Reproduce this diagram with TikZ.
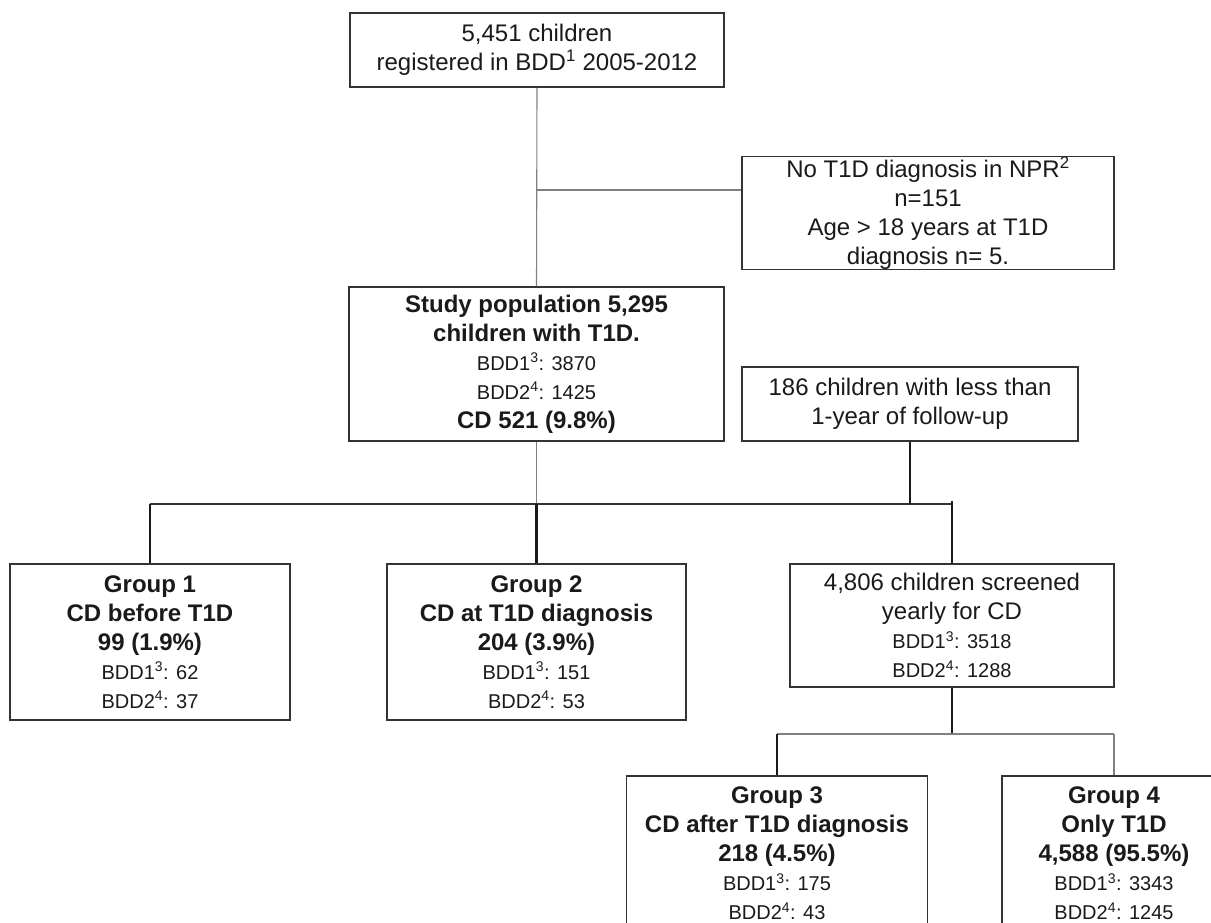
\documentclass[tikz,border=0pt]{standalone}
\usepackage{fontspec}
\setmainfont{Liberation Sans}
\definecolor{boxline}{HTML}{333333}
\definecolor{inkblack}{HTML}{1A1A1A}
\definecolor{linkgray}{HTML}{808080}
\newcommand{\mainfs}{\fontsize{24}{29}\selectfont}
\newcommand{\smallfs}{\fontsize{20}{25.5}\selectfont}
\newcommand{\bigbold}{\mainfs\bfseries}
\newcommand{\smallreg}{\smallfs\mdseries}
\newcommand{\bigreg}{\mainfs\mdseries}
\tikzset{
  flowbox/.style={draw=boxline, line width=1.5pt, rectangle, align=center, inner sep=0pt, text=inkblack, font=\mainfs},
  link/.style={draw=boxline, line width=1.4pt},
  thinlink/.style={draw=linkgray, line width=1.1pt},
  boldlink/.style={draw=inkblack, line width=2.2pt}
}
\begin{document}
\begin{tikzpicture}[x=1pt,y=-1pt]
\useasboundingbox (0,0) rectangle (1211,922);
\fill[white] (0,0) rectangle (1211,922);
\clip (0,0) rectangle (1211,922);
% boxes
\node[flowbox, minimum width=374pt, minimum height=74pt] (registered) at (537,50) {\bigreg 5,451 children\\ \bigreg registered in BDD\textsuperscript{1} 2005-2012};
\node[flowbox, minimum width=372pt, minimum height=106pt] (excluded) at (928,213) {\bigreg No T1D diagnosis in NPR\textsuperscript{2}\\ \bigreg n=151\\ \bigreg Age > 18 years at T1D\\ \bigreg diagnosis n= 5.};
\node[flowbox, minimum width=375pt, minimum height=154pt] (study) at (536.5,364) {\bigbold Study population 5,295\\ \bigbold children with T1D.\\ \smallreg BDD1\textsuperscript{3}: 3870\\ \smallreg BDD2\textsuperscript{4}: 1425\\ \bigbold CD 521 (9.8\%)};
\node[flowbox, minimum width=336pt, minimum height=74pt] (short) at (910,404) {\bigreg 186 children with less than\\ \bigreg 1-year of follow-up};
\node[flowbox, minimum width=280pt, minimum height=156pt] (group1) at (150,642) {\bigbold Group 1\\ \bigbold CD before T1D\\ \bigbold 99 (1.9\%)\\ \smallreg BDD1\textsuperscript{3}: 62\\ \smallreg BDD2\textsuperscript{4}: 37};
\node[flowbox, minimum width=299pt, minimum height=156pt] (group2) at (536.5,642) {\bigbold Group 2\\ \bigbold CD at T1D diagnosis\\ \bigbold 204 (3.9\%)\\ \smallreg BDD1\textsuperscript{3}: 151\\ \smallreg BDD2\textsuperscript{4}: 53};
\node[flowbox, minimum width=324pt, minimum height=123pt] (screened) at (952,625.5) {\bigreg 4,806 children screened\\ \bigreg yearly for CD\\ \smallreg BDD1\textsuperscript{3}: 3518\\ \smallreg BDD2\textsuperscript{4}: 1288};
\node[flowbox, minimum width=301pt, minimum height=155pt] (group3) at (777,853.5) {\bigbold Group 3\\ \bigbold CD after T1D diagnosis\\ \bigbold 218 (4.5\%)\\ \smallreg BDD1\textsuperscript{3}: 175\\ \smallreg BDD2\textsuperscript{4}: 43};
\node[flowbox, minimum width=224pt, minimum height=155pt] (group4) at (1114,853.5) {\bigbold Group 4\\ \bigbold Only T1D\\ \bigbold 4,588 (95.5\%)\\ \smallreg BDD1\textsuperscript{3}: 3343\\ \smallreg BDD2\textsuperscript{4}: 1245};
% junctions
\coordinate (exclJoin) at (536.5,190);
\coordinate (groupBar) at (150,504);
\coordinate (screenBar) at (952,734);
% connectors
\draw[thinlink] (registered.south) -- (study.north);
\draw[thinlink] (exclJoin) -- (exclJoin -| excluded.west);
\draw[thinlink] (study.south) -- (study.south |- groupBar);
\draw[link] (group1.north |- groupBar) -- (screened.north |- groupBar);
\draw[boldlink] (group1.north) -- (group1.north |- groupBar);
\draw[boldlink] (group2.north) -- (group2.north |- groupBar);
\draw[boldlink] (short.south) -- (short.south |- groupBar);
\draw[boldlink] (screened.north) -- ([yshift=3pt]screened.north |- groupBar);
\draw[boldlink] (screened.south) -- (screenBar);
\draw[thinlink] (group3.north |- screenBar) -- (group4.north |- screenBar);
\draw[boldlink] (group3.north) -- (group3.north |- screenBar);
\draw[thinlink] (group4.north) -- (group4.north |- screenBar);
\end{tikzpicture}
\end{document}
